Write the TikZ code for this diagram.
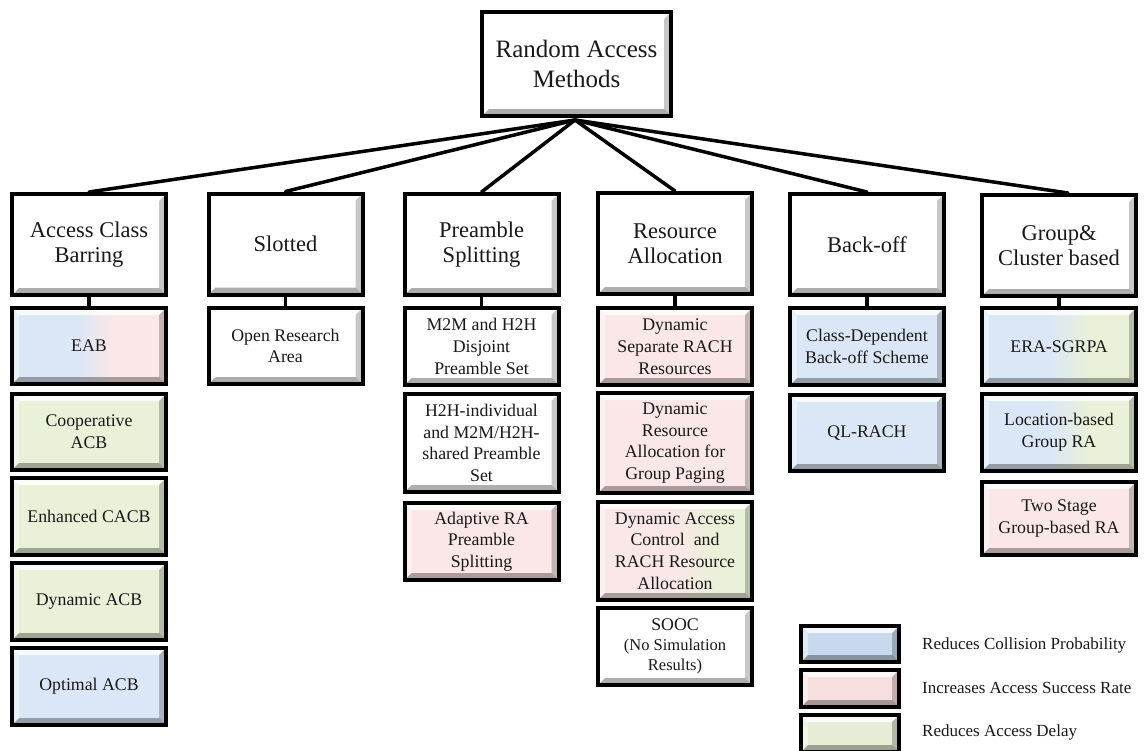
\documentclass[tikz,border=0pt]{standalone}
\usepackage{fontspec}
\setmainfont{Liberation Serif}
\usetikzlibrary{calc}
\definecolor{cblue}{RGB}{219,231,246}
\definecolor{cpink}{RGB}{251,231,231}
\definecolor{cgreen}{RGB}{233,241,217}
\definecolor{lblue}{RGB}{200,217,238}
\definecolor{lpink}{RGB}{246,223,222}
\definecolor{lgreen}{RGB}{229,237,214}
\definecolor{txt}{RGB}{25,25,25}
\pgfdeclarehorizontalshading{bluepink}{100bp}{color(0bp)=(cblue); color(25bp)=(cblue); color(46bp)=(cblue); color(58bp)=(cpink); color(75bp)=(cpink); color(100bp)=(cpink)}
\pgfdeclarehorizontalshading{bluegreen}{100bp}{color(0bp)=(cblue); color(25bp)=(cblue); color(47bp)=(cblue); color(60bp)=(cgreen); color(75bp)=(cgreen); color(100bp)=(cgreen)}
\pgfdeclarehorizontalshading{pinkgreen}{100bp}{color(0bp)=(cpink); color(25bp)=(cpink); color(50bp)=(cpink); color(63bp)=(cgreen); color(75bp)=(cgreen); color(100bp)=(cgreen)}
\tikzset{
  bevel/.style={path picture={
    \def\bw{7pt}
    \fill[white,opacity=0.8] (path picture bounding box.north west) -- (path picture bounding box.north east)
      -- ([xshift=-\bw,yshift=-\bw]path picture bounding box.north east) -- ([xshift=\bw,yshift=-\bw]path picture bounding box.north west) -- cycle;
    \fill[white,opacity=0.45] (path picture bounding box.north west) -- (path picture bounding box.south west)
      -- ([xshift=\bw,yshift=\bw]path picture bounding box.south west) -- ([xshift=\bw,yshift=-\bw]path picture bounding box.north west) -- cycle;
    \fill[black,opacity=0.22] (path picture bounding box.north east) -- (path picture bounding box.south east)
      -- ([xshift=-\bw,yshift=\bw]path picture bounding box.south east) -- ([xshift=-\bw,yshift=-\bw]path picture bounding box.north east) -- cycle;
    \fill[black,opacity=0.32] (path picture bounding box.south west) -- (path picture bounding box.south east)
      -- ([xshift=-\bw,yshift=\bw]path picture bounding box.south east) -- ([xshift=\bw,yshift=\bw]path picture bounding box.south west) -- cycle;
  }},
  bx/.style={draw=black, line width=4pt, bevel, align=center, inner sep=2pt, text=txt},
  topbox/.style={bx, fill=white, font=\fontsize{25}{30}\selectfont, minimum width=189pt, minimum height=104pt},
  hdr/.style={bx, fill=white, font=\fontsize{22.5}{25.5}\selectfont, minimum width=154pt, minimum height=101pt},
  leaf/.style={bx, font=\fontsize{17.8}{21.7}\selectfont, minimum width=154pt},
  conn/.style={line width=3.5pt, line cap=round},
  legtxt/.style={anchor=west, font=\fontsize{17}{20}\selectfont, text=txt, inner sep=0pt},
}
\begin{document}
\begin{tikzpicture}[x=1pt,y=-1pt]
\useasboundingbox[fill=white] (0,0) rectangle (1148,750);

% top
\node[topbox] (top) at (576.5,64) {Random Access\\Methods};

% headers
\node[hdr] (acb) at (89,244.5) {Access Class\\Barring};
\node[hdr] (slot) at (285.5,244) {Slotted};
\node[hdr] (ps) at (481.5,244.5) {Preamble\\Splitting};
\node[hdr] (ra) at (675,243.5) {Resource\\Allocation};
\node[hdr] (bo) at (867,244.5) {Back-off};
\node[hdr] (gc) at (1059,245.5) {Group\&\\Cluster based};

% column 1
\node[leaf, minimum height=76pt, shading=bluepink] (eab) at (89,346) {EAB};
\node[leaf, minimum height=76pt, fill=cgreen] (coop) at (89,432) {Cooperative\\ACB};
\node[leaf, minimum height=77pt, fill=cgreen] (ecacb) at (89,516.5) {Enhanced CACB};
\node[leaf, minimum height=77pt, fill=cgreen] (dacb) at (89,601.5) {Dynamic ACB};
\node[leaf, minimum height=77pt, fill=cblue] (oacb) at (89,686.5) {Optimal ACB};

% column 2
\node[leaf, minimum height=76pt, fill=white] (open) at (285.5,346) {Open Research\\Area};

% column 3
\node[leaf, minimum height=77pt, fill=white] (m2m) at (481.5,346.5) {M2M and H2H\\Disjoint\\Preamble Set};
\node[leaf, minimum height=98pt, fill=white] (h2h) at (481.5,443) {H2H-individual\\and M2M/H2H-\\shared Preamble\\Set};
\node[leaf, minimum height=77pt, fill=cpink] (arps) at (481.5,541.5) {Adaptive RA\\Preamble\\Splitting};

% column 4
\node[leaf, minimum height=77pt, fill=cpink] (dsr) at (675,346.5) {Dynamic\\Separate RACH\\Resources};
\node[leaf, minimum height=100pt, fill=cpink] (dra) at (675,443) {Dynamic\\Resource\\Allocation for\\Group Paging};
\node[leaf, minimum height=98pt, shading=pinkgreen] (dac) at (675,551) {Dynamic Access\\Control~ and\\RACH Resource\\Allocation};
\node[leaf, minimum height=77pt, fill=white] (sooc) at (675,646.5) {SOOC\\[-2pt]{\fontsize{16.5}{19}\selectfont (No Simulation}\\[-2pt]{\fontsize{16.5}{19}\selectfont Results)}};

% column 5
\node[leaf, minimum height=77pt, fill=cblue] (cdb) at (867,346.5) {Class-Dependent\\Back-off Scheme};
\node[leaf, minimum height=76pt, fill=cblue] (ql) at (867,433) {QL-RACH};

% column 6
\node[leaf, minimum height=77pt, shading=bluegreen] (era) at (1059,346.5) {ERA-SGRPA};
\node[leaf, minimum height=77pt, shading=bluegreen] (loc) at (1059,432.5) {Location-based\\Group RA};
\node[leaf, minimum height=73pt, fill=cpink] (two) at (1059,518.5) {Two Stage\\Group-based RA};

% connectors
\coordinate (hub) at ($(top.south)+(-1.5pt,-2pt)$);
\foreach \n in {acb,slot,ps,ra,bo} \draw[conn] (hub) -- (\n.north);
\draw[conn] (hub) -- ([xshift=9pt]gc.north);
\draw[conn] (acb.south) -- (eab.north);
\draw[conn] (slot.south) -- (open.north);
\draw[conn] (ps.south) -- (m2m.north);
\draw[conn] (ra.south) -- (dsr.north);
\draw[conn] (bo.south) -- (cdb.north);
\draw[conn] (gc.south) -- (era.north);

% legend
\node[bx, fill=lblue, minimum width=98pt, minimum height=36pt] (l1) at (850,644) {};
\node[bx, fill=lpink, minimum width=98pt, minimum height=37pt] (l2) at (850,688.5) {};
\node[bx, fill=lgreen, minimum width=98pt, minimum height=37pt] (l3) at (850,733.5) {};
\node[legtxt] (t1) at (922,645) {Reduces Collision Probability};
\node[legtxt] (t2) at (922,688) {Increases Access Success Rate};
\node[legtxt] (t3) at (922,732) {Reduces Access Delay};
\end{tikzpicture}
\end{document}
